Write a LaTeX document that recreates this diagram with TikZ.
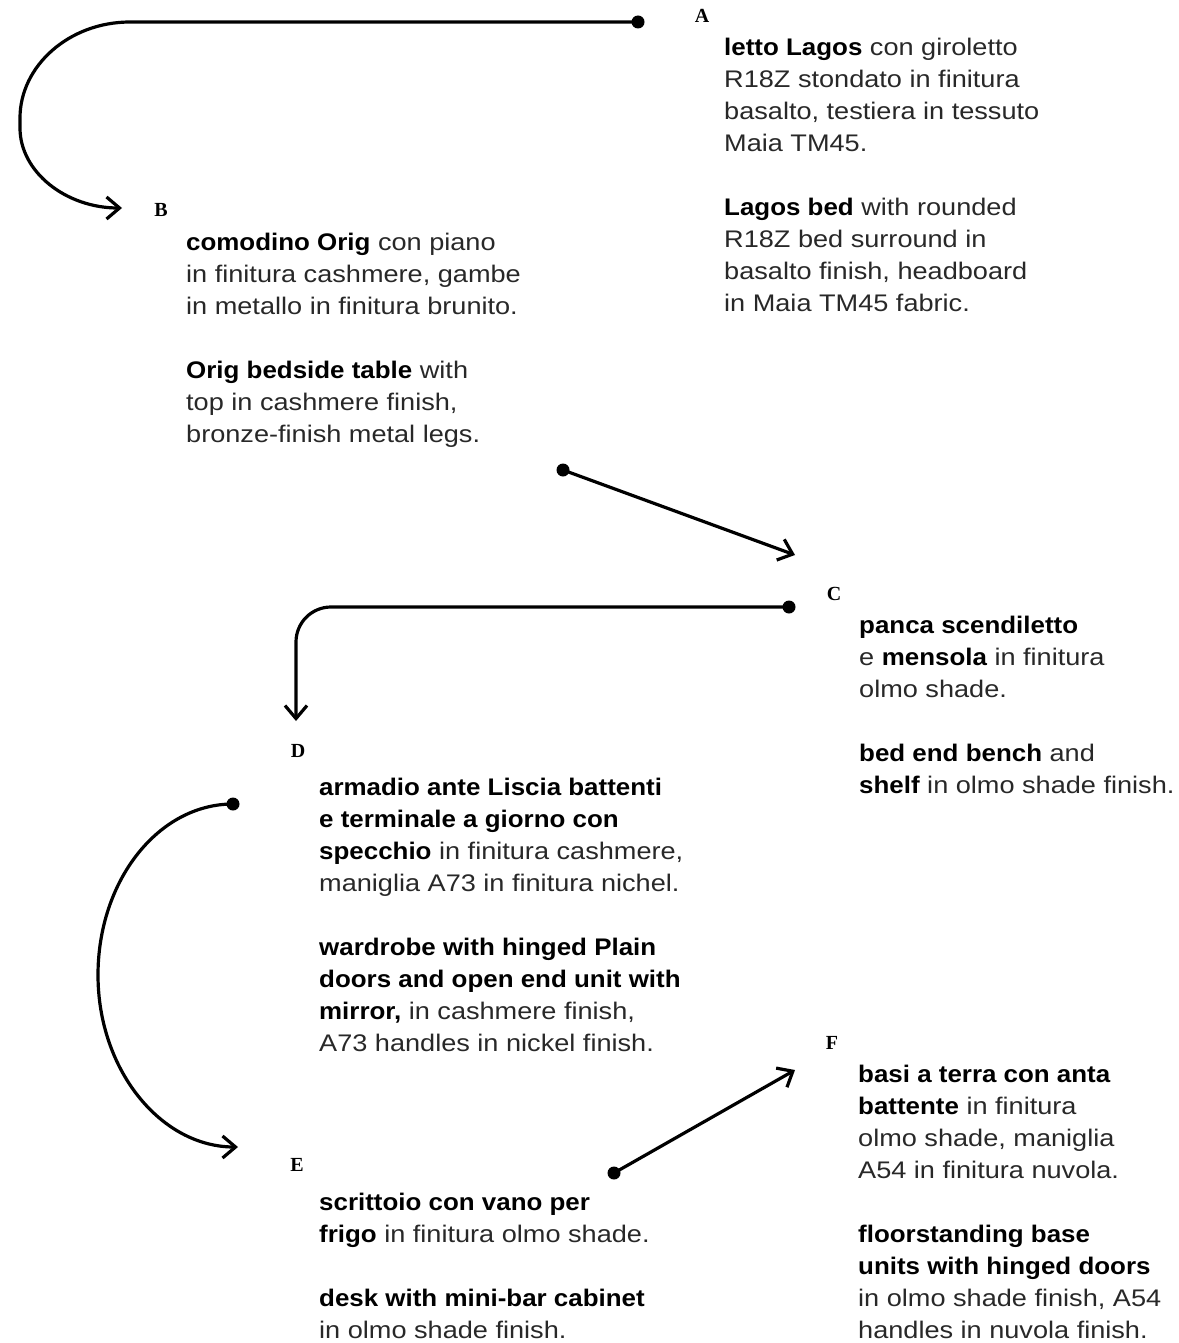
\documentclass[tikz,border=0pt]{standalone}
\usepackage{fontspec}
\setmainfont{Liberation Sans}[FakeStretch=1.13, BoldFeatures={FakeStretch=1.08}]
\newfontfamily\lblfont{Liberation Serif}
\usetikzlibrary{arrows.meta}
\definecolor{txtgray}{RGB}{40,40,40}
\newcommand\bd[1]{\textbf{\color{black}#1}}
\tikzset{
  conn/.style={line width=3.2pt, -{Straight Barb[length=13pt,width=22pt]}},
  dotnode/.style={circle, fill=black, minimum size=13pt, inner sep=0pt},
  lbl/.style={font=\lblfont\bfseries\fontsize{20}{20}\selectfont, anchor=base, inner sep=0pt},
  desc/.style={anchor=base west, inner sep=0pt, font=\fontsize{24}{32}\selectfont, text=txtgray}
}
\begin{document}
\begin{tikzpicture}[x=1pt,y=-1pt]
\useasboundingbox (0,0) rectangle (1178,1343);

% labels
\node[lbl] (lA) at (702,23) {A};
\node[lbl] (lB) at (161,216) {B};
\node[lbl] (lC) at (834,600) {C};
\node[lbl] (lD) at (298,757) {D};
\node[lbl] (lE) at (297,1171) {E};
\node[lbl] (lF) at (832,1049) {F};

% texts
\node[desc] (tA) at (724,56) {\begin{tabular}[t]{@{}l@{}}
\bd{letto Lagos} con giroletto\\
R18Z stondato in finitura\\
basalto, testiera in tessuto\\
Maia TM45.\\
\\
\bd{Lagos bed} with rounded\\
R18Z bed surround in\\
basalto finish, headboard\\
in Maia TM45 fabric.
\end{tabular}};

\node[desc] (tBx) at (186,250) {\begin{tabular}[t]{@{}l@{}}
\bd{comodino Orig} con piano\\
in finitura cashmere, gambe\\
in metallo in finitura brunito.\\
\\
\bd{Orig bedside table} with\\
top in cashmere finish,\\
bronze-finish metal legs.
\end{tabular}};

\node[desc] (tCx) at (859,633) {\begin{tabular}[t]{@{}l@{}}
\bd{panca scendiletto}\\
e \bd{mensola} in finitura\\
olmo shade.\\
\\
\bd{bed end bench} and\\
\bd{shelf} in olmo shade finish.
\end{tabular}};

\node[desc] (tDx) at (319,795) {\begin{tabular}[t]{@{}l@{}}
\bd{armadio ante Liscia battenti}\\
\bd{e terminale a giorno con}\\
\bd{specchio} in finitura cashmere,\\
maniglia A73 in finitura nichel.\\
\\
\bd{wardrobe with hinged Plain}\\
\bd{doors and open end unit with}\\
\bd{mirror,} in cashmere finish,\\
A73 handles in nickel finish.
\end{tabular}};

\node[desc] (tEx) at (319,1210) {\begin{tabular}[t]{@{}l@{}}
\bd{scrittoio con vano per}\\
\bd{frigo} in finitura olmo shade.\\
\\
\bd{desk with mini-bar cabinet}\\
in olmo shade finish.
\end{tabular}};

\node[desc] (tFx) at (858,1082) {\begin{tabular}[t]{@{}l@{}}
\bd{basi a terra con anta}\\
\bd{battente} in finitura\\
olmo shade, maniglia\\
A54 in finitura nuvola.\\
\\
\bd{floorstanding base}\\
\bd{units with hinged doors}\\
in olmo shade finish, A54\\
handles in nuvola finish.
\end{tabular}};

% dots
\node[dotnode] (dA) at (638,22) {};
\node[dotnode] (dB) at (563,470) {};
\node[dotnode] (dC) at (789,607) {};
\node[dotnode] (dD) at (233,804) {};
\node[dotnode] (dE) at (614,1173) {};

% arrow ends
\coordinate (eB) at (122,208);
\coordinate (eC) at (795,555);
\coordinate (eD) at (296,721);
\coordinate (eE) at (238,1147);
\coordinate (eF) at (795,1070);

% connectors
\draw[conn] (dA.center) -- (130,22) .. controls (69,22) and (20,66) .. (20,118)
  -- (20,128) .. controls (20,172) and (66,208) .. (eB);
\draw[conn] (dB.center) -- (eC);
\draw[conn, rounded corners=35pt] (dC.center) -- (296,607) -- (eD);
\draw[conn] (dD.center) .. controls (158,804) and (98,881) .. (98,975)
  .. controls (98,1070) and (161,1147) .. (eE);
\draw[conn] (dE.center) -- (eF);
\end{tikzpicture}
\end{document}
